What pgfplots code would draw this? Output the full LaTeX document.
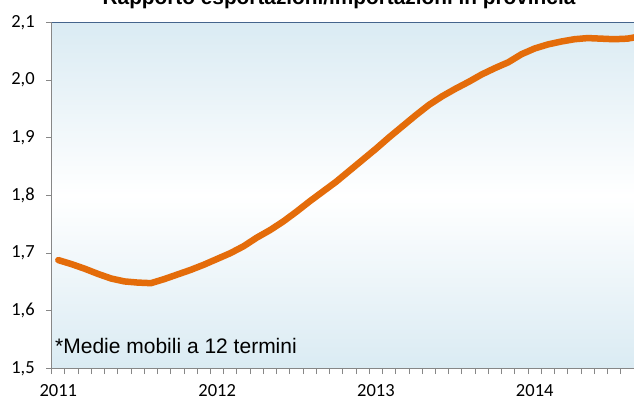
\documentclass[border=0pt]{standalone}
\usepackage{fontspec}
\setmainfont{Carlito}
\newfontfamily\arial{Liberation Sans}
\usepackage{pgfplots}
\usepackage{pgfplotstable}
\pgfplotsset{compat=1.18}

\definecolor{lineorange}{HTML}{E46C0A}
\definecolor{bgblue}{HTML}{DAEBF3}
\definecolor{axisgray}{HTML}{878787}
\definecolor{frameblue}{HTML}{44648C}

% monthly moving average, Jan 2011 = 0
\pgfplotstableread{
i   v
0   1.688
1   1.681
2   1.673
3   1.664
4   1.656
5   1.651
6   1.649
7   1.648
8   1.655
9   1.663
10  1.671
11  1.680
12  1.690
13  1.700
14  1.712
15  1.727
16  1.740
17  1.755
18  1.772
19  1.790
20  1.807
21  1.824
22  1.843
23  1.862
24  1.881
25  1.901
26  1.920
27  1.939
28  1.957
29  1.972
30  1.985
31  1.997
32  2.010
33  2.021
34  2.031
35  2.045
36  2.055
37  2.062
38  2.067
39  2.071
40  2.073
41  2.072
42  2.071
43  2.072
44  2.076
}\ratio

\begin{document}
\begin{tikzpicture}
\begin{axis}[
    at={(0pt,0pt)}, anchor=south west,
    scale only axis,
    width=582.3pt, height=346pt,
    xmin=-0.5, xmax=43.5,
    ymin=1.5, ymax=2.1,
    axis x line*=bottom, axis y line*=left,
    axis line style={-, draw=axisgray, line width=1.3pt},
    axis background/.style={shade, top color=bgblue, bottom color=bgblue, middle color=white},
    tick align=outside,
    major tick length=5.5pt,
    tick style={draw=axisgray, line width=1pt},
    ytick={1.5,1.6,1.7,1.8,1.9,2.0,2.1},
    xtick={-0.5,0.5,...,43.5},
    xticklabels={},
    extra x ticks={0,12,24,36},
    extra x tick labels={2011,2012,2013,2014},
    extra x tick style={major tick length=0pt},
    ticklabel style={font=\fontsize{18.5}{20}\selectfont},
    yticklabel style={xshift=-8pt, /pgf/number format/.cd, fixed, fixed zerofill, precision=1, use comma, assume math mode=true},
    xticklabel style={yshift=-12pt, /pgf/number format/.cd, assume math mode=true},
]
\addplot[lineorange, line width=6.5pt, line cap=round, line join=round] table[x=i, y=v] {\ratio};
\node[anchor=base west, inner sep=0pt, font=\arial\fontsize{21}{24}\selectfont]
    at (axis cs:-0.25,1.526) {*Medie mobili a 12 termini};
\end{axis}
\draw[frameblue, line width=1.2pt] (0pt,346pt) -- (582.3pt,346pt);
\node[anchor=base, font=\arial\bfseries\fontsize{20.8}{24}\selectfont]
    at (287.3pt,363.5pt) {Rapporto esportazioni/importazioni in provincia};
\pgfresetboundingbox
\path[use as bounding box] (-51.7pt,-34pt) rectangle (582.3pt,368.5pt);
\end{tikzpicture}
\end{document}
